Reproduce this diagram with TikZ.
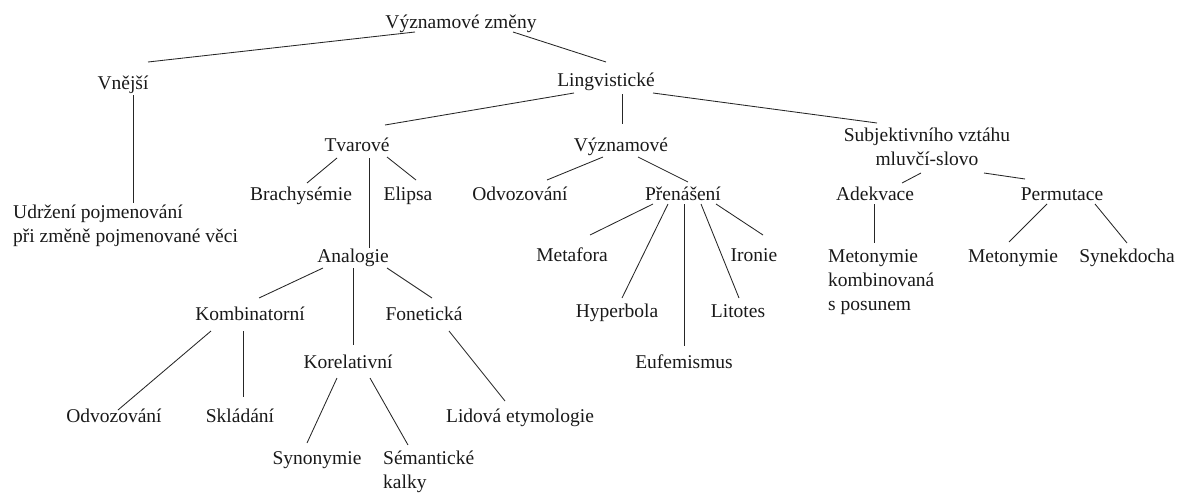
\documentclass[tikz,border=0pt]{standalone}
\usepackage{fontspec}
\setmainfont{Liberation Serif}
\usetikzlibrary{calc}
\begin{document}
\begin{tikzpicture}[x=1pt,y=-1pt,
  lbl/.style={inner sep=0pt, anchor=base, font=\fontsize{19.5}{24}\selectfont, text=black!90},
  lblw/.style={lbl, anchor=base west},
  edge/.style={line width=0.85pt, draw=black!85}]
\useasboundingbox (0,0) rectangle (1177,493);
% nodes
\node[lbl] (root) at (461,28) {Významové změny};
\node[lbl] (vne) at (123,89) {Vnější};
\node[lbl] (lin) at (606,86) {Lingvistické};
\node[lbl] (tva) at (357,151) {Tvarové};
\node[lbl] (vyz) at (621,151) {Významové};
\node[lbl] (sub) at (927,141) {\begin{tabular}[t]{@{}c@{}}Subjektivního vztáhu\\mluvčí-slovo\end{tabular}};
\node[lbl] (bra) at (301,200) {Brachysémie};
\node[lbl] (eli) at (408,200) {Elipsa};
\node[lbl] (odva) at (520,200) {Odvozování};
\node[lbl] (pre) at (683,200) {Přenášení};
\node[lbl] (ade) at (875,200) {Adekvace};
\node[lbl] (per) at (1062,200) {Permutace};
\node[lblw] (udr) at (13,218) {\begin{tabular}[t]{@{}l@{}}Udržení pojmenování\\při změně pojmenované věci\end{tabular}};
\node[lbl] (ana) at (353,262) {Analogie};
\node[lbl] (met) at (572,261) {Metafora};
\node[lbl] (iro) at (754,261) {Ironie};
\node[lblw] (mko) at (828,262) {\begin{tabular}[t]{@{}l@{}}Metonymie\\kombinovaná\\s posunem\end{tabular}};
\node[lbl] (mty) at (1013,262) {Metonymie};
\node[lbl] (syk) at (1127,262) {Synekdocha};
\node[lbl] (hyp) at (617,317) {Hyperbola};
\node[lbl] (lit) at (738,317) {Litotes};
\node[lbl] (kom) at (250,320) {Kombinatorní};
\node[lbl] (fon) at (424,320) {Fonetická};
\node[lbl] (kor) at (348,368) {Korelativní};
\node[lbl] (euf) at (684,368) {Eufemismus};
\node[lbl] (odvb) at (114,422) {Odvozování};
\node[lbl] (skl) at (240,422) {Skládání};
\node[lbl] (lid) at (520,422) {Lidová etymologie};
\node[lbl] (syno) at (317,464) {Synonymie};
\node[lblw] (sem) at (383,464) {\begin{tabular}[t]{@{}l@{}}Sémantické\\kalky\end{tabular}};
% connectors
\draw[edge] ($(root.base)+(-46,4)$) -- ($(vne.base)+(25,-27)$);
\draw[edge] ($(root.base)+(52,4)$) -- ($(lin.base)+(0,-24)$);
\draw[edge] ($(vne.base)+(10.5,6)$) -- ($(udr.base west)+(120.5,-15)$);
\draw[edge] ($(lin.base)+(-32,7)$) -- ($(tva.base)+(28,-26)$);
\draw[edge] ($(lin.base)+(16.5,8)$) -- ($(vyz.base)+(1.5,-27)$);
\draw[edge] ($(lin.base)+(47,7)$) -- ($(sub.base)+(-50,-18)$);
\draw[edge] ($(tva.base)+(-20,7)$) -- ($(bra.base)+(6,-17)$);
\draw[edge] ($(tva.base)+(30,6)$) -- ($(eli.base)+(8,-20)$);
\draw[edge] ($(tva.base)+(12.5,7)$) -- ($(ana.base)+(16.5,-14)$);
\draw[edge] ($(vyz.base)+(-18,6)$) -- ($(odva.base)+(27,-20)$);
\draw[edge] ($(vyz.base)+(17,6)$) -- ($(pre.base)+(5,-18)$);
\draw[edge] ($(sub.base)+(-6,32)$) -- ($(ade.base)+(27,-17)$);
\draw[edge] ($(sub.base)+(57,32)$) -- ($(per.base)+(-37,-21)$);
\draw[edge] ($(pre.base)+(-30,4)$) -- ($(met.base)+(18,-26)$);
\draw[edge] ($(pre.base)+(-15,4)$) -- ($(hyp.base)+(5,-19)$);
\draw[edge] ($(pre.base)+(1.5,4)$) -- ($(euf.base)+(0.5,-22)$);
\draw[edge] ($(pre.base)+(18,4)$) -- ($(lit.base)+(1,-19)$);
\draw[edge] ($(pre.base)+(33,4)$) -- ($(iro.base)+(9,-26)$);
\draw[edge] ($(ade.base)+(-0.5,4)$) -- ($(mko.base west)+(46.5,-19)$);
\draw[edge] ($(per.base)+(-15,4)$) -- ($(mty.base)+(-4,-20)$);
\draw[edge] ($(per.base)+(33,4)$) -- ($(syk.base)+(0,-19)$);
\draw[edge] ($(ana.base)+(-30,6)$) -- ($(kom.base)+(9,-22)$);
\draw[edge] ($(ana.base)+(0.5,6)$) -- ($(kor.base)+(5.5,-23)$);
\draw[edge] ($(ana.base)+(34,6)$) -- ($(fon.base)+(8,-22)$);
\draw[edge] ($(kom.base)+(-39,11)$) -- ($(odvb.base)+(4,-12)$);
\draw[edge] ($(kom.base)+(-6.5,11)$) -- ($(skl.base)+(3.5,-25)$);
\draw[edge] ($(kor.base)+(-11,10)$) -- ($(syno.base)+(-10,-21)$);
\draw[edge] ($(kor.base)+(22,10)$) -- ($(sem.base west)+(25,-19)$);
\draw[edge] ($(fon.base)+(25,11)$) -- ($(lid.base)+(-15,-21)$);
\end{tikzpicture}
\end{document}
